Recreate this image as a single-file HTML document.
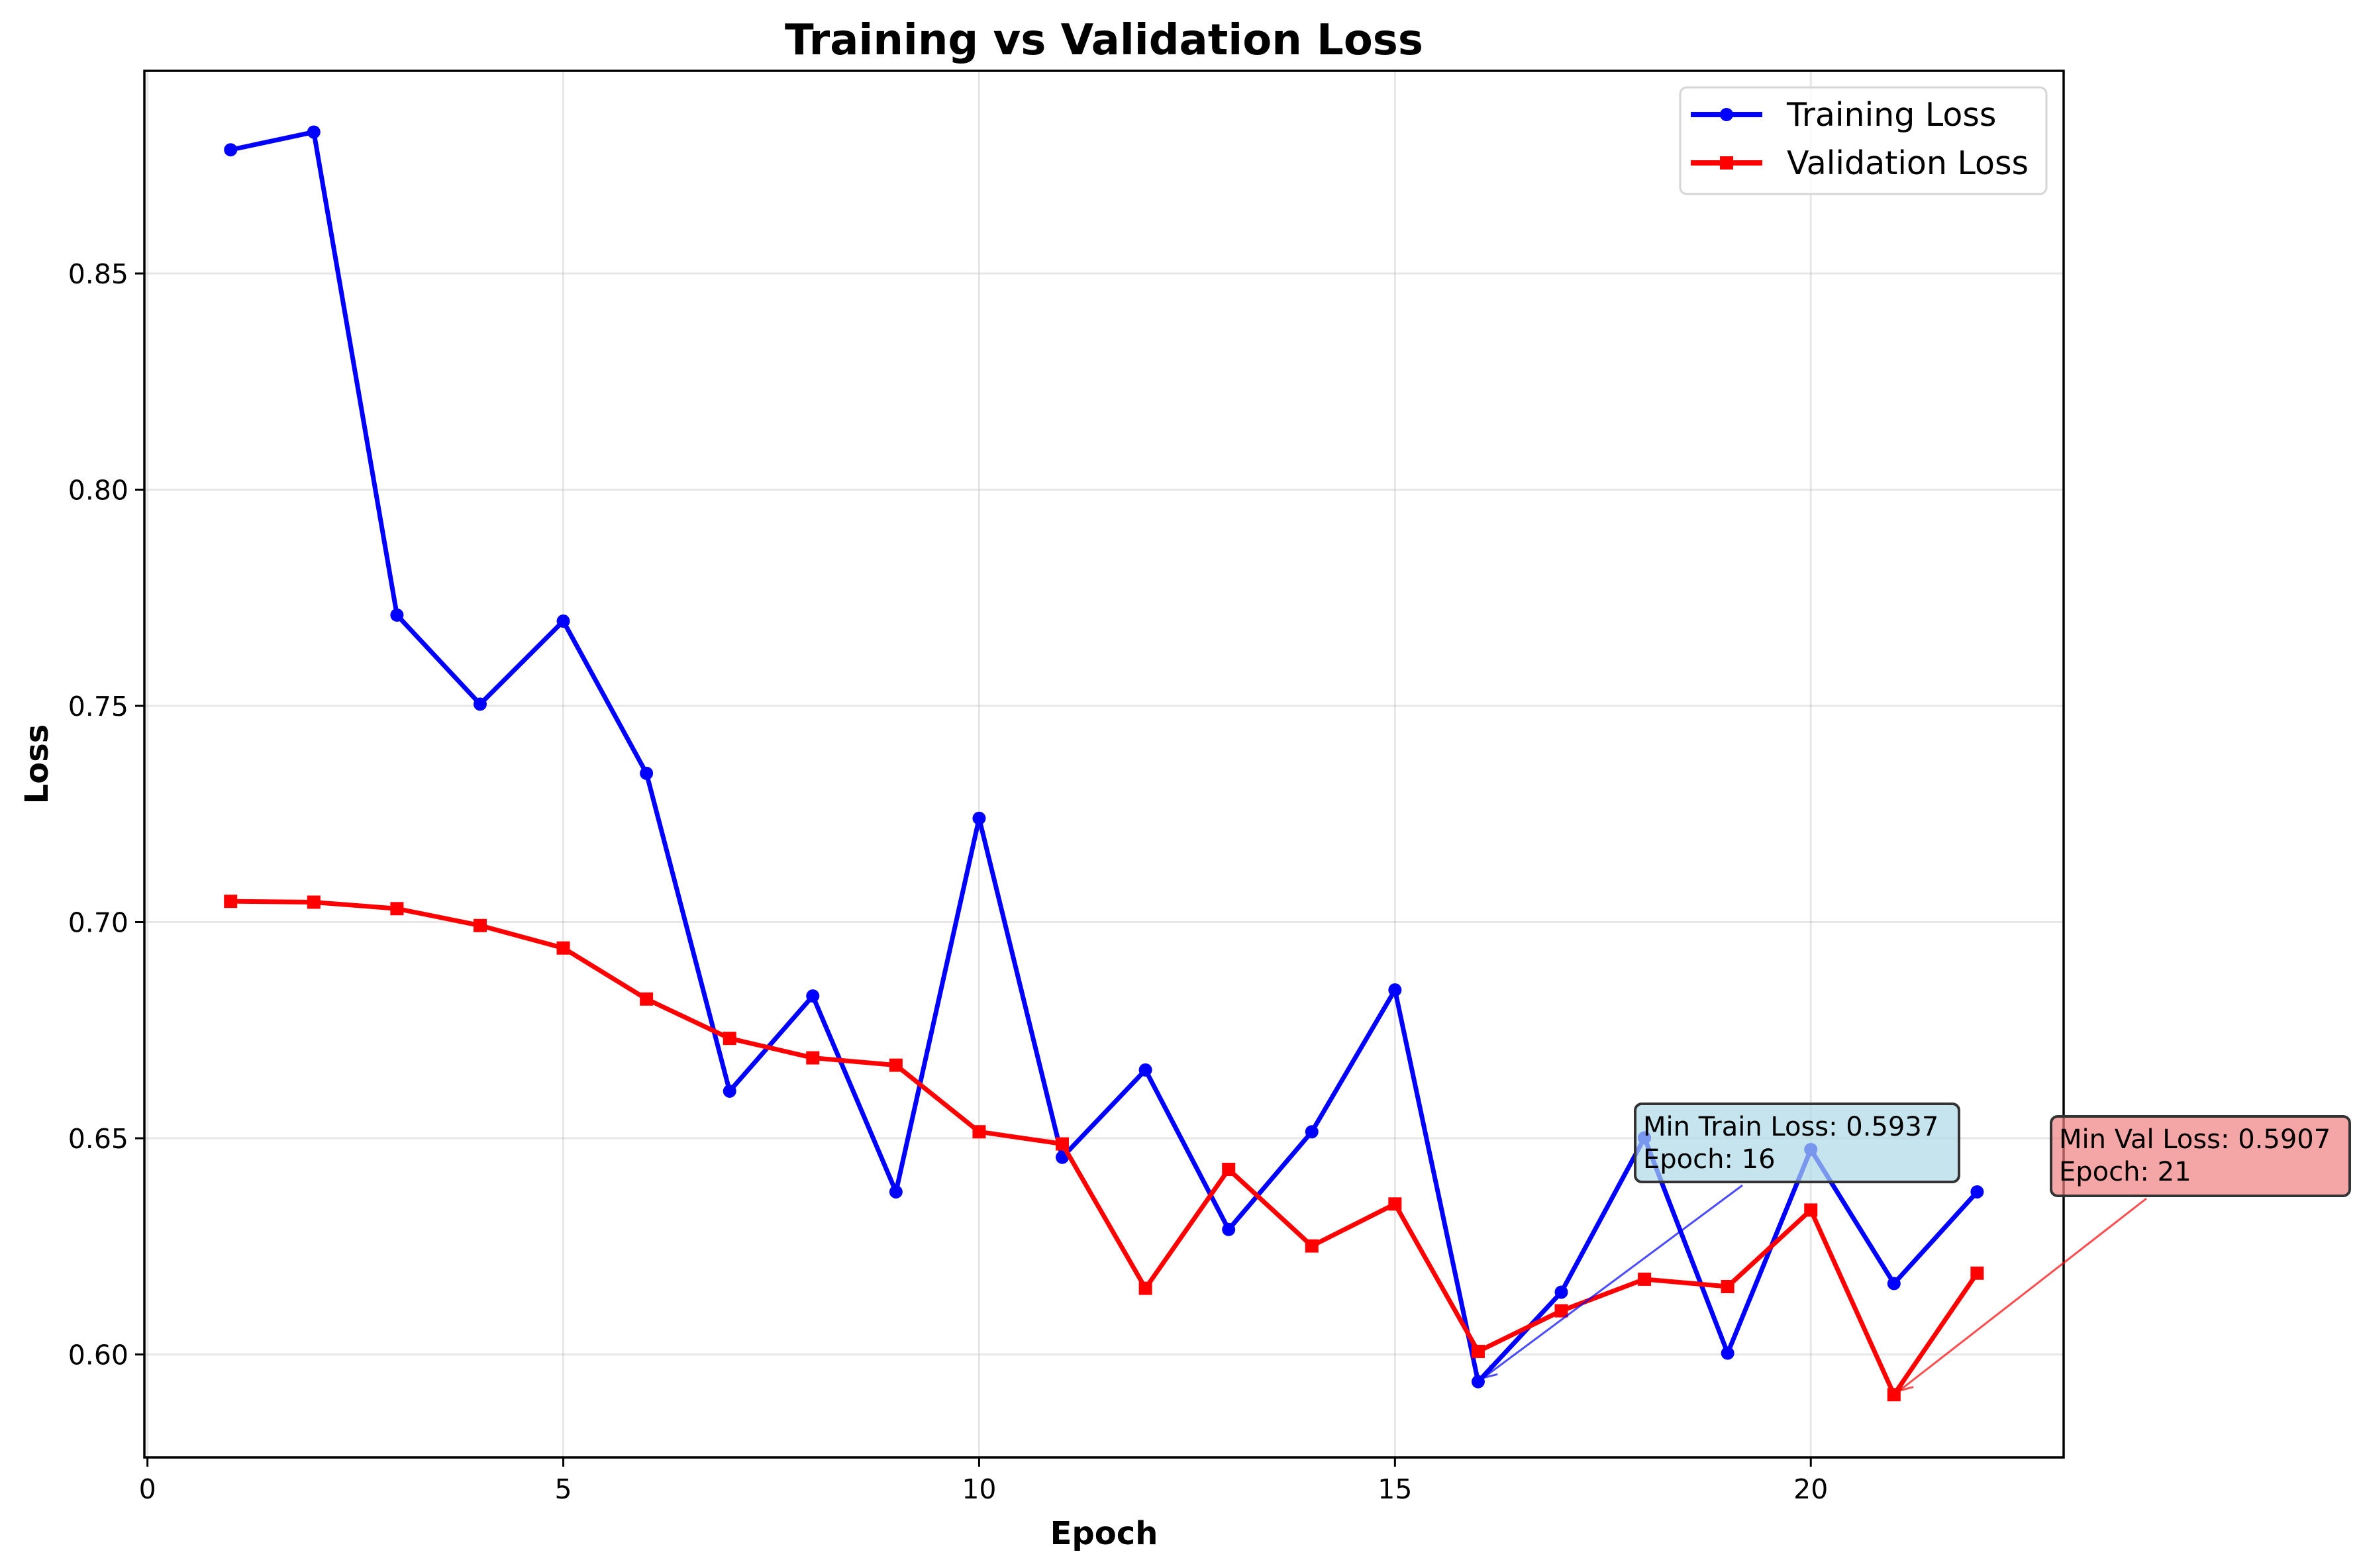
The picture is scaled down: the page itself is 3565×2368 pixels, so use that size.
<!DOCTYPE html>
<html><head><meta charset="utf-8"><style>
html,body{margin:0;padding:0;background:#fff;}
svg{display:block;font-family:"DejaVu Sans","Liberation Sans",sans-serif;}
</style></head><body>
<svg id="chart" width="3565" height="2368" viewBox="0 0 3565 2368" xmlns="http://www.w3.org/2000/svg">
<rect width="3565" height="2368" fill="#fff"/>
<text x="1667" y="82" text-anchor="middle" font-size="64" font-weight="bold">Training vs Validation Loss</text>
<g id="grid"></g>
<g id="series"></g>
<g id="axes"></g>
<text x="1667" y="2332" text-anchor="middle" font-size="48" font-weight="bold">Epoch</text>
<text x="0" y="0" transform="translate(72,1154) rotate(-90)" text-anchor="middle" font-size="48" font-weight="bold">Loss</text>
<g id="annot"></g>
<g>
<rect x="2537" y="132" width="553" height="161" rx="10" fill="#fff" fill-opacity="0.8" stroke="#d6d6d6" stroke-width="3"/>
<line x1="2553" y1="173" x2="2661" y2="173" stroke="#0000ff" stroke-width="8"/>
<circle cx="2607" cy="173" r="10" fill="#0000ff"/>
<text x="2698" y="190" font-size="49">Training Loss</text>
<line x1="2553" y1="246" x2="2661" y2="246" stroke="#ff0000" stroke-width="8"/>
<rect x="2597" y="236" width="20" height="20" fill="#ff0000"/>
<text x="2698" y="263" font-size="49">Validation Loss</text>
</g>
</svg>
<script>
const epochs = [1,2,3,4,5,6,7,8,9,10,11,12,13,14,15,16,17,18,19,20,21,22];
const trainLoss = [0.8786,0.8827,0.7710,0.7504,0.7696,0.7344,0.6609,0.6829,0.6376,0.7240,0.6456,0.6658,0.6289,0.6515,0.6843,0.5937,0.6144,0.6501,0.6003,0.6474,0.6164,0.6376];
const valLoss = [0.7048,0.7046,0.7031,0.6992,0.6940,0.6822,0.6731,0.6686,0.6669,0.6515,0.6487,0.6153,0.6428,0.6251,0.6348,0.6007,0.6101,0.6174,0.6157,0.6334,0.5907,0.6188];
const xTicks = [0,5,10,15,20];
const yTicks = [0.60,0.65,0.70,0.75,0.80,0.85];
const yTickLabels = ["0.60","0.65","0.70","0.75","0.80","0.85"];

const L=218,R=3116,T=107,B=2201;
const xMin=-0.037,xMax=23.04,yMin=0.57619,yMax=0.89686;
function X(v){return L+(v-xMin)/(xMax-xMin)*(R-L);}
function Y(v){return B-(v-yMin)/(yMax-yMin)*(B-T);}
const NS="http://www.w3.org/2000/svg";
function mk(tag,attrs,parent){const e=document.createElementNS(NS,tag);for(const k in attrs)e.setAttribute(k,attrs[k]);parent.appendChild(e);return e;}
const grid=document.getElementById('grid'),axes=document.getElementById('axes'),series=document.getElementById('series'),annot=document.getElementById('annot');

xTicks.forEach(t=>{
  const g=mk('line',{x1:X(t),x2:X(t),y1:T,y2:B,stroke:'#b0b0b0','stroke-opacity':0.3,'stroke-width':3},grid);
  
  
  const tk=mk('line',{x1:X(t),x2:X(t),y1:B,y2:B+14,stroke:'#000','stroke-width':3},axes);
  
  
  const tx=mk('text',{x:X(t),y:B+62,'text-anchor':'middle','font-size':41},axes);
  tx.textContent=String(t);
  
  
});
yTicks.forEach((t,i)=>{
  const g=mk('line',{x1:L,x2:R,y1:Y(t),y2:Y(t),stroke:'#b0b0b0','stroke-opacity':0.3,'stroke-width':3},grid);
  
  
  const tk=mk('line',{x1:L-14,x2:L,y1:Y(t),y2:Y(t),stroke:'#000','stroke-width':3},axes);
  
  
  const tx=mk('text',{x:L-24,y:Y(t)+15,'text-anchor':'end','font-size':41},axes);
  tx.textContent=yTickLabels[i];
  
  
});
const frame=mk('rect',{x:L,y:T,width:R-L,height:B-T,fill:'none',stroke:'#000','stroke-width':3.5},axes);



function drawSeries(vals,color,marker,name){
  const pts=epochs.map((e,i)=>X(e)+','+Y(vals[i])).join(' ');
  const pl=mk('polyline',{points:pts,fill:'none',stroke:color,'stroke-width':7,'stroke-linejoin':'round'},series);
  
  
  epochs.forEach((e,i)=>{
    let m;
    if(marker==='o') m=mk('circle',{cx:X(e),cy:Y(vals[i]),r:10,fill:color},series);
    else m=mk('rect',{x:X(e)-10,y:Y(vals[i])-10,width:20,height:20,fill:color},series);
    
    
  });
}
drawSeries(trainLoss,'#0000ff','o','training-loss');
drawSeries(valLoss,'#ff0000','s','validation-loss');

function argmin(a){let k=0;a.forEach((v,i)=>{if(v<a[k])k=i;});return k;}
function annotate(vals,color,fill,bx,by,bw,bh,ax,ay,label,name){
  const k=argmin(vals);
  const px=X(epochs[k]),py=Y(vals[k]);
  const ln=mk('line',{x1:ax,y1:ay,x2:px+8,y2:py-6,stroke:color,'stroke-opacity':0.7,'stroke-width':3},annot);
  
  
  const ang=Math.atan2(py-6-ay,px+8-ax);
  const hx=px+8,hy=py-6;
  const ah=mk('polyline',{points:(hx-22*Math.cos(ang-0.4))+','+(hy-22*Math.sin(ang-0.4))+' '+hx+','+hy+' '+(hx-22*Math.cos(ang+0.4))+','+(hy-22*Math.sin(ang+0.4)),fill:'none',stroke:color,'stroke-opacity':0.7,'stroke-width':3},annot);
  
  
  const r=mk('rect',{x:bx,y:by,width:bw,height:bh,rx:10,fill:fill,'fill-opacity':0.7,stroke:'#333','stroke-width':4},annot);
  
  
  const t1=mk('text',{x:bx+12,y:by+48,'font-size':40},annot);
  t1.textContent=label+': '+vals[k].toFixed(4);
  
  
  const t2=mk('text',{x:bx+12,y:by+97,'font-size':40},annot);
  t2.textContent='Epoch: '+epochs[k];
  
  
}
annotate(trainLoss,'#0000ff','#add8e6',2469,1667,489,118,2631,1790,'Min Train Loss','min-train-annotation');
annotate(valLoss,'#ff0000','#f08080',3097,1686,451,120,3241,1810,'Min Val Loss','min-val-annotation');
</script>
</body></html>
